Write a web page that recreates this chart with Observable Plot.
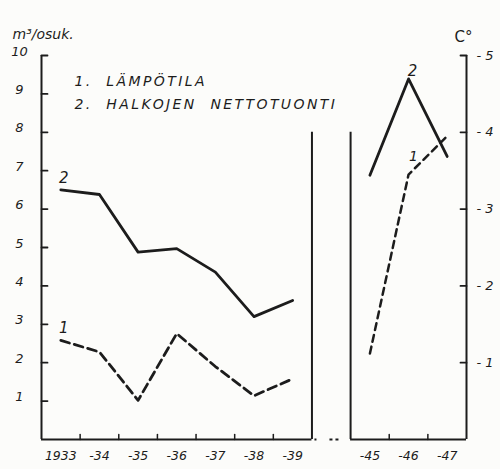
<!DOCTYPE html>
<html><head><meta charset="utf-8">
<script src="https://cdn.jsdelivr.net/npm/d3@7"></script>
<script src="https://cdn.jsdelivr.net/npm/@observablehq/plot@0.6"></script>
<style>
body{margin:0;background:#fcfcfa;}
#chart svg{display:block;}
</style>
</head><body><div id="chart"></div>
<script>
// Years shown on the broken time axis
const years = [1933, 1934, 1935, 1936, 1937, 1938, 1939, 1945, 1946, 1947];
const yearLabels = ["1933", "-34", "-35", "-36", "-37", "-38", "-39", "-45", "-46", "-47"];
// 2. Halkojen nettotuonti, m3 / asukas
const halkot = [6.50, 6.38, 4.88, 4.97, 4.36, 3.20, 3.62, 6.88, 9.39, 7.37];
// 1. Lämpötila, °C
const lampotila = [-1.29, -1.14, -0.51, -1.38, -0.95, -0.57, -0.79, -1.12, -3.45, -3.95];
// axis ticks
const m3Ticks = [1, 2, 3, 4, 5, 6, 7, 8, 9, 10];
const tempTicks = [-1, -2, -3, -4, -5];
const legendLines = ["1.  LÄMPÖTILA", "2.  HALKOJEN  NETTOTUONTI"];

// broken axis: one empty slot between 1939 and 1945
const slot = yr => yr <= 1939 ? yr - 1933 : yr - 1937;
const nSlots = slot(1947) + 1;
const gapStart = slot(1939) + 1, gapEnd = slot(1945);
// temperature axis is aligned so that 1 °C corresponds to 2 units on the m3 axis
const tY = t => -2 * t;

const rows = years.map((yr, i) => ({
  year: yr, label: yearLabels[i], pos: slot(yr) + 0.5,
  halkot: halkot[i], temp: lampotila[i], tempY: tY(lampotila[i]),
  period: yr <= 1939 ? "A" : "B"
}));
const A = rows.filter(d => d.period === "A");
const B = rows.filter(d => d.period === "B");
const boundaries = d3.range(1, nSlots).filter(b => b !== gapStart && b !== gapEnd);

const ink = "#1c1c1c";
const font = "'DejaVu Sans', sans-serif";
const tickShape = {draw(ctx, l) { ctx.moveTo(0, 0); ctx.lineTo(0, -l); }};

const chart = Plot.plot({
  width: 500, height: 469,
  marginLeft: 41, marginRight: 34, marginTop: 55, marginBottom: 30,
  style: {background: "transparent", fontFamily: font, color: ink},
  x: {type: "linear", domain: [0, nSlots], axis: null},
  y: {type: "linear", domain: [0, 10], axis: null},
  marks: [
    // frame lines
    Plot.ruleX([0], {y1: 0, y2: 10, stroke: ink, strokeWidth: 2}),
    Plot.ruleX([nSlots], {y1: 0, y2: 10, stroke: ink, strokeWidth: 2}),
    Plot.ruleX([gapStart, gapEnd], {y1: 0, y2: 8, stroke: ink, strokeWidth: 2}),
    Plot.ruleY([0], {x1: 0, x2: gapStart, stroke: ink, strokeWidth: 2}),
    Plot.ruleY([0], {x1: gapEnd, x2: nSlots, stroke: ink, strokeWidth: 2}),
    Plot.ruleY([0], {x1: gapStart, x2: gapEnd, stroke: ink, strokeWidth: 2, strokeDasharray: "2,13,3,3,3,40", dx: 3}),
    // tick marks
    Plot.vector(m3Ticks, {x: 0, y: d => d, length: 6, rotate: 90, anchor: "start", shape: tickShape, stroke: ink, strokeWidth: 1.8}),
    Plot.vector(tempTicks, {x: nSlots, y: d => tY(d), length: 6, rotate: -90, anchor: "start", shape: tickShape, stroke: ink, strokeWidth: 1.8}),
    Plot.vector(boundaries, {x: d => d, y: 0, length: 5, rotate: 0, anchor: "start", shape: tickShape, stroke: ink, strokeWidth: 1.5}),
    // tick labels
    Plot.text(m3Ticks, {x: 0, y: d => d, text: d => String(d), dx: -22, dy: -4, textAnchor: "middle", fontSize: 13, fontStyle: "italic", fill: ink}),
    Plot.text(tempTicks, {x: nSlots, y: d => tY(d), text: d => "- " + Math.abs(d), dx: 10, textAnchor: "start", fontSize: 13, fontStyle: "italic", fill: ink}),
    Plot.text(rows, {x: "pos", y: 0, text: "label", dy: 16, textAnchor: "middle", fontSize: 12.5, fontStyle: "italic", fill: ink}),
    // units
    Plot.text(["m³/osuk."], {frameAnchor: "top-left", dx: -29, dy: -26, textAnchor: "start", fontSize: 14, fontStyle: "italic", fill: ink, text: d => d}),
    Plot.text(["C°"], {frameAnchor: "top-right", dx: -3, dy: -24, textAnchor: "middle", fontSize: 15, fill: ink, text: d => d}),
    // legend
    Plot.text([legendLines[0]], {frameAnchor: "top-left", dx: 33, dy: 21, textAnchor: "start", fontSize: 14, fontStyle: "italic", fill: ink, text: d => d}),
    Plot.text([legendLines[1]], {frameAnchor: "top-left", dx: 33, dy: 44, textAnchor: "start", fontSize: 14, fontStyle: "italic", fill: ink, text: d => d}),
    // series
    Plot.line(A, {x: "pos", y: "halkot", stroke: ink, strokeWidth: 2.8}),
    Plot.line(B, {x: "pos", y: "halkot", stroke: ink, strokeWidth: 2.8}),
    Plot.line(A, {x: "pos", y: "tempY", stroke: ink, strokeWidth: 2.8, strokeDasharray: "9,5"}),
    Plot.line(B, {x: "pos", y: "tempY", stroke: ink, strokeWidth: 2.5, strokeDasharray: "7,5"}),
    // series labels
    Plot.text([A[0]], {x: "pos", y: "halkot", text: () => "2", dx: 3, dy: -12, fontSize: 15, fontStyle: "italic", fill: ink}),
    Plot.text([A[0]], {x: "pos", y: "tempY", text: () => "1", dx: 3, dy: -12, fontSize: 15, fontStyle: "italic", fill: ink}),
    Plot.text([B[1]], {x: "pos", y: "halkot", text: () => "2", dx: 4, dy: -8, fontSize: 15, fontStyle: "italic", fill: ink}),
    Plot.text([B[1]], {x: "pos", y: "tempY", text: () => "1", dx: 5, dy: -18, fontSize: 14, fontStyle: "italic", fill: ink})
  ]
});
// wide hand-lettered spacing for the legend lines
d3.select(chart).selectAll("text")
  .filter(function () { return legendLines.includes(this.textContent); })
  .style("letter-spacing", "2.4px");
document.getElementById("chart").append(chart);
</script>
</body></html>
